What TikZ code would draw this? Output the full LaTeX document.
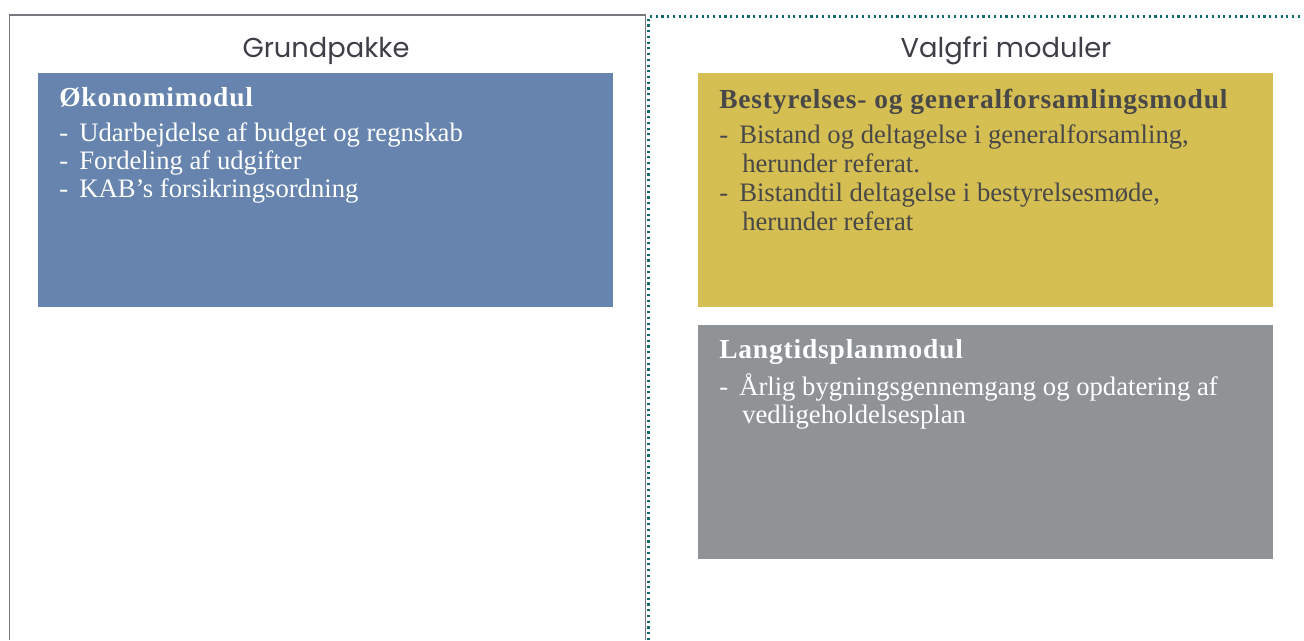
\documentclass[tikz,border=0pt]{standalone}
\usepackage{fontspec}
\setmainfont{Liberation Serif}
\newfontfamily\headfont{Poppins}
\newfontfamily\titlefont[LetterSpace=3]{Liberation Serif}
\usetikzlibrary{positioning}

\definecolor{okoblue}{HTML}{6684AD}
\definecolor{bestyellow}{HTML}{D5BE52}
\definecolor{langgray}{HTML}{909396}
\definecolor{headgray}{HTML}{3E3E46}
\definecolor{darktext}{HTML}{484848}
\definecolor{framegray}{HTML}{78787E}
\definecolor{dotteal}{HTML}{0F6B6B}

\begin{document}
\begin{tikzpicture}[
        x=0.75pt, y=-0.75pt,
        modbox/.style={rectangle, anchor=north west, inner sep=0pt,
            minimum width=431.25pt, minimum height=175.5pt},
        heading/.style={anchor=base, inner sep=0pt, text=headgray,
            font=\headfont\fontsize{20.5pt}{24pt}\selectfont},
        modtitle/.style={anchor=base west, inner sep=0pt,
            font=\titlefont\bfseries\fontsize{20.6pt}{22pt}\selectfont},
        itemtext/.style={anchor=base west, inner sep=0pt,
            font=\fontsize{20pt}{21pt}\selectfont}
    ]
        \useasboundingbox (0,0) rectangle (1304,640);

        % frames
        \draw[framegray, line width=1.2pt] (9.5,640) -- (9.5,15) -- (645.5,15) -- (645.5,640);
        \draw[dotteal, line width=1.8pt, dash pattern=on 1.6pt off 2.7pt]
            (648.5,640) -- (648.5,16.5) -- (1304,16.5);

        \node[heading] (grund) at (326,57) {Grundpakke};
        \node[heading] (valg) at (1006,57) {Valgfri moduler};

        % boxes
        \node[modbox, fill=okoblue] (oko) at (38,73) {};
        \node[modbox, fill=bestyellow] (best) at (698,73) {};
        \node[modbox, fill=langgray] (lang) at (698,325) {};

        % Økonomimodul
        \node[modtitle, white] (okot) at (59,106) {Økonomimodul};
        \node[itemtext, white] (okod1) at (59,141) {-};
        \node[itemtext, white] (okoi1) at (79,141) {Udarbejdelse af budget og regnskab};
        \node[itemtext, white] (okod2) at (59,169) {-};
        \node[itemtext, white] (okoi2) at (79,169) {Fordeling af udgifter};
        \node[itemtext, white] (okod3) at (59,197) {-};
        \node[itemtext, white] (okoi3) at (79,197) {KAB’s forsikringsordning};

        % Bestyrelses- og generalforsamlingsmodul
        \node[modtitle, darktext] (bestt) at (719,108) {Bestyrelses- og generalforsamlingsmodul};
        \node[itemtext, darktext] (bestd1) at (719,143) {-};
        \node[itemtext, darktext] (besti1) at (739,143) {Bistand og deltagelse i generalforsamling,};
        \node[itemtext, darktext] (besti1b) at (742,172) {herunder referat.};
        \node[itemtext, darktext] (bestd2) at (719,201) {-};
        \node[itemtext, darktext] (besti2) at (739,201) {Bistandtil deltagelse i bestyrelsesmøde,};
        \node[itemtext, darktext] (besti2b) at (742,230) {herunder referat};

        % Langtidsplanmodul
        \node[modtitle, white] (langt) at (719,358) {Langtidsplanmodul};
        \node[itemtext, white] (langd1) at (719,395) {-};
        \node[itemtext, white] (langi1) at (739,395) {Årlig bygningsgennemgang og opdatering af};
        \node[itemtext, white] (langi1b) at (742,423) {vedligeholdelsesplan};
\end{tikzpicture}
\end{document}
